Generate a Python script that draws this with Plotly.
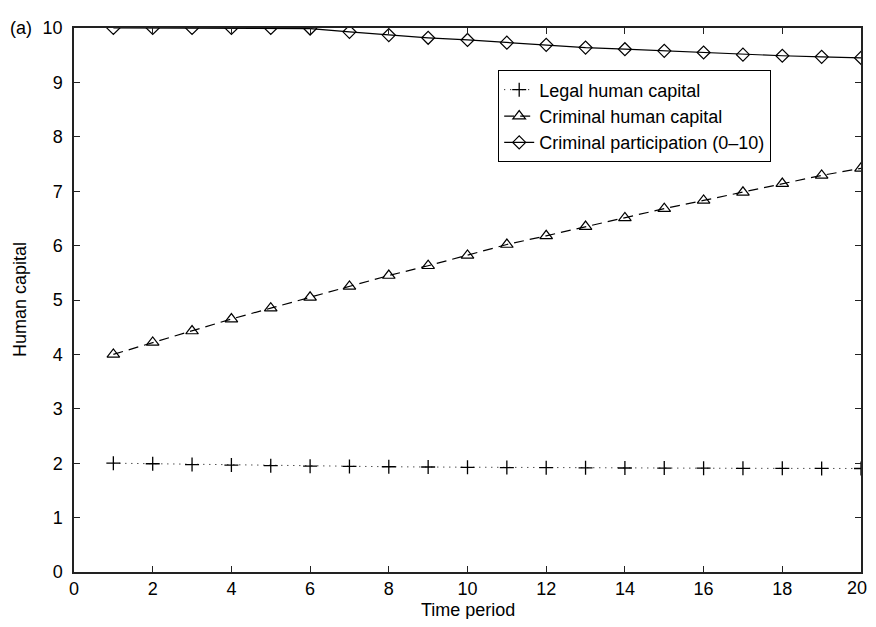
import plotly.graph_objects as go

periods = list(range(1, 21))
legal_hc = [2.00, 1.99, 1.975, 1.965, 1.955, 1.945, 1.94, 1.935, 1.93, 1.925,
            1.92, 1.918, 1.915, 1.912, 1.91, 1.908, 1.906, 1.905, 1.904, 1.903]
criminal_hc = [4.00, 4.22, 4.43, 4.65, 4.85, 5.05, 5.25, 5.45, 5.63, 5.82,
               6.02, 6.18, 6.35, 6.51, 6.68, 6.83, 6.98, 7.14, 7.29, 7.42]
criminal_part = [10.0, 10.0, 10.0, 10.0, 10.0, 9.99, 9.93, 9.87, 9.82, 9.78,
                 9.73, 9.69, 9.64, 9.61, 9.58, 9.55, 9.51, 9.49, 9.47, 9.45]
x_ticks = list(range(0, 21, 2))
y_ticks = list(range(0, 11))
x_tick_labels = [str(v) for v in x_ticks]

FONT = "Liberation Sans, Arial, sans-serif"
FS = 18

fig = go.Figure()
fig.add_trace(go.Scatter(
    x=periods, y=legal_hc, name="Legal human capital", mode="lines+markers",
    line=dict(color="black", width=1, dash="1px,5px"),
    marker=dict(symbol="cross-thin", size=10, color="black",
                line=dict(color="black", width=1.3))))
fig.add_trace(go.Scatter(
    x=periods, y=criminal_hc, name="Criminal human capital", mode="lines+markers",
    line=dict(color="black", width=1.2, dash="10px,6px"),
    marker=dict(symbol="triangle-up-open", size=11, color="black",
                line=dict(color="black", width=1.2))))
fig.add_trace(go.Scatter(
    x=periods, y=criminal_part, name="Criminal participation (0\u201310)", mode="lines+markers",
    line=dict(color="black", width=1.2),
    marker=dict(symbol="diamond-open", size=10, color="black",
                line=dict(color="black", width=1.2))))

axis_common = dict(showgrid=False, zeroline=False, showline=True, linecolor="#222",
                   linewidth=1.5, mirror="ticks", ticks="inside", ticklen=6,
                   tickcolor="#222", tickwidth=1, automargin=False,
                   tickfont=dict(family=FONT, size=FS, color="black"))

# last x label drawn separately so it is not clipped at the window edge
fig.update_xaxes(range=[0, 20], tickvals=x_ticks,
                 ticktext=x_tick_labels[:-1] + [""], ticklabelstandoff=0, **axis_common)
fig.update_yaxes(range=[0, 10], tickvals=y_ticks, ticklabelstandoff=6, **axis_common)

fig.add_annotation(text=x_tick_labels[-1], x=x_ticks[-1], y=0, xref="x", yref="paper",
                   xanchor="right", yanchor="top", xshift=8, yshift=-4, showarrow=False,
                   font=dict(family=FONT, size=FS, color="black"))
fig.add_annotation(text="(a)", x=0, y=1, xref="paper", yref="paper",
                   xanchor="right", yanchor="middle", xshift=-40, showarrow=False,
                   font=dict(family=FONT, size=FS, color="black"))
fig.add_annotation(text="Time period", x=0.5, y=0, xref="paper", yref="paper",
                   xanchor="center", yanchor="middle", yshift=-38, showarrow=False,
                   font=dict(family=FONT, size=FS, color="black"))
fig.add_annotation(text="Human capital", x=0, y=0.5, xref="paper", yref="paper",
                   xanchor="center", yanchor="middle", xshift=-54, textangle=-90,
                   showarrow=False, font=dict(family=FONT, size=FS, color="black"))

# The page places the figure 8px in from the top-left corner of the window.
fig.update_layout(
    width=868, height=611,
    margin=dict(l=66, r=15, t=20, b=47),
    plot_bgcolor="white", paper_bgcolor="white",
    font=dict(family=FONT, color="black"),
    legend=dict(x=0.539, y=0.922, xanchor="left", yanchor="top",
                bgcolor="white", bordercolor="black", borderwidth=1,
                font=dict(family=FONT, size=FS, color="black"),
                tracegroupgap=0, itemwidth=30),
    showlegend=True,
)

fig.write_html("out.html")
